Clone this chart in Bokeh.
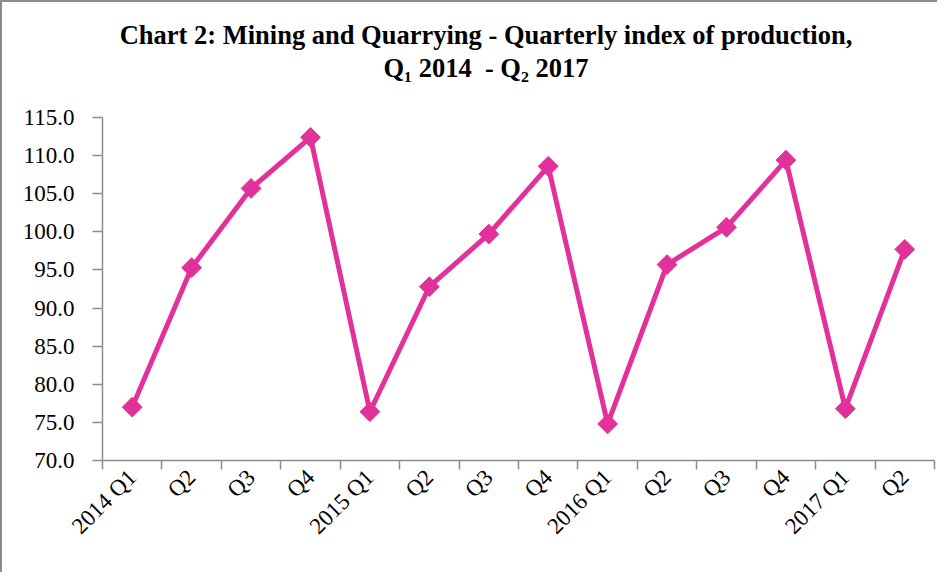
import math
from bokeh.plotting import figure
from bokeh.layouts import column
from bokeh.models import FixedTicker, NumeralTickFormatter, Range1d, ColumnDataSource, Div
from bokeh.embed import file_html
from bokeh.resources import INLINE

# ---- data ----
labels = ["2014 Q1", "Q2", "Q3", "Q4",
          "2015 Q1", "Q2", "Q3", "Q4",
          "2016 Q1", "Q2", "Q3", "Q4",
          "2017 Q1", "Q2"]
values = [77.0, 95.3, 105.7, 112.4,
          76.4, 92.8, 99.7, 108.6,
          74.8, 95.7, 100.6, 109.4,
          76.8, 97.7]
y_ticks = [70, 75, 80, 85, 90, 95, 100, 105, 110, 115]

title_line1 = "Chart 2: Mining and Quarrying - Quarterly index of production,"
title_line2 = "Q\u2081 2014&nbsp; - Q\u2082 2017"

LINE_COLOR = "#E2319A"
AXIS_COLOR = "#8C8C8C"
FONT = "Liberation Serif"

n = len(labels)
xs = [i + 0.5 for i in range(n)]
src = ColumnDataSource(dict(x=xs, y=values))

title_div = Div(text=title_line1 + "<br>" + title_line2, width=902, height=66,
                margin=(17, 0, 0, 33),
                styles={"font-family": FONT, "font-weight": "bold", "font-size": "26.5px",
                        "line-height": "33px", "text-align": "center", "color": "black",
                        "white-space": "nowrap"})

p = figure(width=935, height=487, output_backend="svg", toolbar_location=None,
           x_range=Range1d(0, n), y_range=Range1d(y_ticks[0], y_ticks[-1]),
           min_border_left=100, min_border_right=3, min_border_top=32,
           min_border_bottom=112, margin=(0, 0, 0, 0))

p.outline_line_color = None
p.xgrid.grid_line_color = None
p.ygrid.grid_line_color = None
p.background_fill_color = "white"
p.border_fill_color = "white"

# y axis
ya = p.yaxis[0]
ya.ticker = FixedTicker(ticks=y_ticks)
ya.formatter = NumeralTickFormatter(format="0.0")
ya.axis_line_color = AXIS_COLOR
ya.axis_line_width = 1.5
ya.major_tick_line_color = AXIS_COLOR
ya.major_tick_line_width = 1.5
ya.major_tick_out = 10
ya.major_tick_in = 0
ya.minor_tick_line_color = None
ya.major_label_text_font = FONT
ya.major_label_text_font_size = "23px"
ya.major_label_text_color = "black"
ya.major_label_standoff = 18

# x axis: labels at centres, ticks at boundaries
xa = p.xaxis[0]
xa.ticker = FixedTicker(ticks=xs, minor_ticks=list(range(n + 1)))
xa.major_label_overrides = {x: lab for x, lab in zip(xs, labels)}
xa.axis_line_color = AXIS_COLOR
xa.axis_line_width = 1.5
xa.major_tick_line_color = None
xa.minor_tick_line_color = AXIS_COLOR
xa.minor_tick_line_width = 1.5
xa.minor_tick_out = 9
xa.minor_tick_in = 0
xa.major_label_orientation = math.pi / 4
xa.major_label_text_font = FONT
xa.major_label_text_font_size = "23px"
xa.major_label_text_color = "black"
xa.major_label_standoff = 4

p.line("x", "y", source=src, line_color=LINE_COLOR, line_width=5)
p.scatter("x", "y", source=src, marker="square", angle=math.pi / 4, size=14,
          fill_color=LINE_COLOR, line_color=LINE_COLOR)

layout = column(title_div, p, spacing=0,
                styles={"border-left": "2px solid #8C8C8C", "border-top": "2px solid #8C8C8C",
                        "background-color": "white"})

open("out.html", "w").write(file_html(layout, INLINE))
